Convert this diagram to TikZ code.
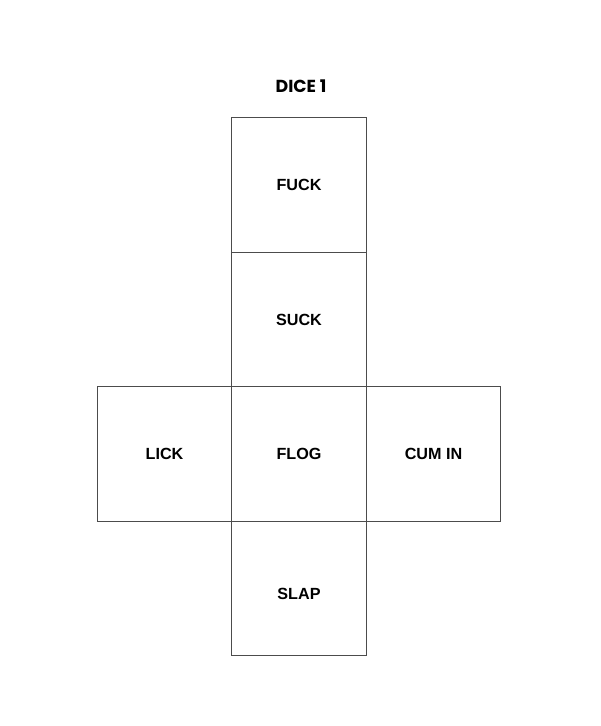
\documentclass[tikz,border=0pt]{standalone}
\usepackage{fontspec}
\setmainfont{Liberation Sans}
\newfontfamily\titlefont{Poppins}
\usetikzlibrary{positioning}
\begin{document}
\begin{tikzpicture}[
        face/.style={draw=black!70, line width=0.5pt, minimum size=2.69cm, inner sep=0pt, outer sep=0pt,
          font=\fontsize{9.2}{11}\selectfont\bfseries},
        ttl/.style={font=\titlefont\fontsize{9.9}{11}\selectfont\bfseries},
        node distance=0pt
      ]
      \useasboundingbox (0,0) rectangle (12,-14.52);
      \node[ttl] (title) at (6.02,-1.72) {DICE 1};
      \node[face] (flog) at (5.98,-9.08) {FLOG};
      \node[face, above=of flog] (suck) {SUCK};
      \node[face, above=of suck] (fuck) {FUCK};
      \node[face, below=of flog] (slap) {\raisebox{-0.22cm}[0pt][0pt]{SLAP}};
      \node[face, left=of flog] (lick) {LICK};
      \node[face, right=of flog] (cumin) {CUM IN};
    \end{tikzpicture}
\end{document}
